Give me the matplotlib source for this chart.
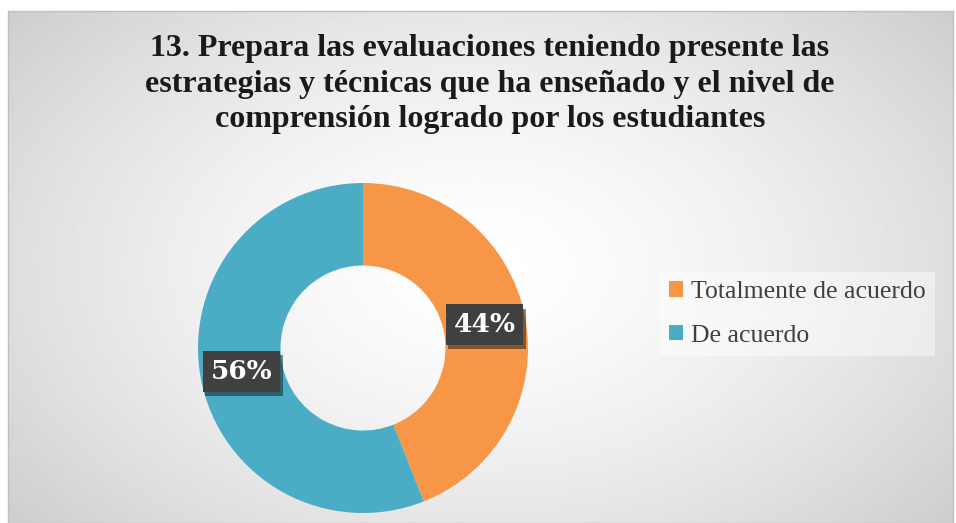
import numpy as np
import matplotlib
matplotlib.use("Agg")
import matplotlib.pyplot as plt
import matplotlib.patheffects as pe

# ======================= data
labels = ["Totalmente de acuerdo", "De acuerdo"]
values = [44, 56]
colors = ["#F79646", "#4BACC6"]
title = ("13. Prepara las evaluaciones teniendo presente las\n"
         "estrategias y técnicas que ha enseñado y el nivel de\n"
         "comprensión logrado por los estudiantes")

W, H = 956, 523
fig = plt.figure(figsize=(W / 100, H / 100), dpi=100)
fig.patch.set_facecolor("white")

# ======================= radial gradient background
bg = fig.add_axes([8 / W, 0, (953 - 8) / W, (H - 11) / H])
yy, xx = np.mgrid[0:1:300j, 0:1:500j]
d = np.sqrt(((xx - 0.5) / 0.75) ** 2 + ((yy - 0.5) / 0.9) ** 2)
shade = 1.0 - 0.24 * np.clip(d, 0, 1) ** 1.5
bg.imshow(shade, cmap="gray", vmin=0, vmax=1, aspect="auto",
          extent=[0, 1, 0, 1], interpolation="bilinear")
bg.set_xlim(0, 1)
bg.set_ylim(0, 1)
bg.set_xticks([])
bg.set_yticks([])
for s in bg.spines.values():
    s.set_color("#bfbfbf")
    s.set_linewidth(1)

# ======================= donut
cx, cy, r = 363, 348, 165
ax = fig.add_axes([(cx - r) / W, (H - cy - r) / H, 2 * r / W, 2 * r / H])
ax.set_facecolor("none")
wedges, _ = ax.pie(values, colors=colors, startangle=90, counterclock=False,
                   radius=1.0, wedgeprops=dict(width=0.5, linewidth=0))
ax.set_xlim(-1, 1)
ax.set_ylim(-1, 1)
ax.set_aspect("equal")
ax.axis("off")

# percentage labels in dark boxes
start = 90.0
for v, w in zip(values, wedges):
    mid = np.deg2rad(start - v / sum(values) * 360 / 2)
    start -= v / sum(values) * 360
    t = ax.text(0.75 * np.cos(mid), 0.75 * np.sin(mid), "%d%%" % v,
                ha="center", va="center", color="white", fontsize=19,
                fontweight="bold", family="DejaVu Serif",
                bbox=dict(boxstyle="square,pad=0.3", facecolor="#404040",
                          edgecolor="none"))
    t.get_bbox_patch().set_path_effects([
        pe.SimplePatchShadow(offset=(2, -3), alpha=0.5), pe.Normal()])

# ======================= title
fig.text(490 / W, 1 - 34 / H, title, ha="center", va="top", fontsize=23,
         fontweight="bold", family="Liberation Serif", color="#1a1a1a",
         linespacing=1.3)

# ======================= legend
handles = [plt.Rectangle((0, 0), 1, 1, facecolor=c) for c in colors]
leg = fig.legend(handles, labels, loc="upper left",
                 bbox_to_anchor=(660 / W, 1 - 272 / H),
                 prop=dict(family="Liberation Serif", size=18.5),
                 frameon=True, fancybox=False, handlelength=0.55,
                 handleheight=0.55, handletextpad=0.3, labelspacing=0.85,
                 borderpad=0.35, borderaxespad=0)
leg.get_frame().set_facecolor("white")
leg.get_frame().set_alpha(0.45)
leg.get_frame().set_edgecolor("none")
for txt in leg.get_texts():
    txt.set_color("#404040")

fig.savefig("out.png", dpi=100)
